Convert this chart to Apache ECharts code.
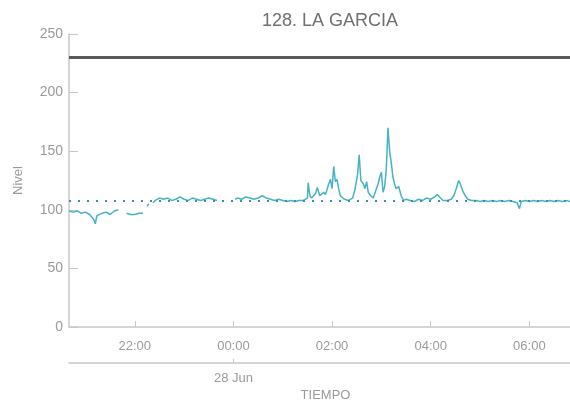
<!DOCTYPE html>
<html>
<head>
<meta charset="utf-8">
<script src="https://cdn.jsdelivr.net/npm/echarts@6/dist/echarts.min.js"></script>
<style>
  html, body { margin: 0; padding: 0; background: #fff; }
  #chart { width: 570px; height: 402px; }
</style>
</head>
<body>
<div id="chart"></div>
<script>
// horas (27 Jun tarde -> 28 Jun madrugada)
var horas = [
  "20:40","20:45","20:50","20:55","21:00","21:05","21:10","21:12","21:14","21:20",
  "21:25","21:30","21:35","21:40","21:43","21:46","21:48","21:50","21:55","22:00",
  "22:05","22:10","22:13","22:15","22:17","22:19","22:22","22:25","22:30","22:35",
  "22:40","22:45","22:50","22:55","23:00","23:05","23:10","23:15","23:20","23:25",
  "23:30","23:35","23:40","23:42","00:02","00:05","00:10","00:15","00:20","00:25",
  "00:30","00:35","00:40","00:45","00:50","00:55","01:00","01:05","01:10","01:15",
  "01:20","01:25","01:30","01:31","01:33","01:35","01:40","01:42","01:45","01:50",
  "01:52","01:55","01:58","02:00","02:02","02:04","02:06","02:08","02:10","02:15",
  "02:20","02:25","02:28","02:31","02:33","02:35","02:38","02:40","02:42","02:44",
  "02:47","02:50","02:53","02:56","02:58","03:00","03:02","03:04","03:06","03:08",
  "03:10","03:12","03:14","03:16","03:18","03:21","03:24","03:27","03:30","03:35",
  "03:40","03:45","03:50","03:55","04:00","04:05","04:08","04:12","04:15","04:20",
  "04:25","04:28","04:31","04:34","04:36","04:39","04:42","04:45","04:50","04:55",
  "05:00","05:05","05:10","05:15","05:20","05:25","05:30","05:35","05:40","05:45",
  "05:48","05:50","05:55","06:00","06:05","06:10","06:15","06:20","06:25","06:30",
  "06:35","06:40","06:45","06:50","06:55","07:00"
];
var nivel = [
  99, 98, 99, 97, 98, 96, 92, 88, 95, 97,
  98, 96, 99, 100, null, 98, null, 97, 96, 96,
  97, 97, null, 103, 105, null, 106, 108, 110, 109,
  110, 108, 109, 111, 109, 108, 110, 109, 108, 109,
  110, 109, 108, null, 109, 110, 109, 111, 110, 109,
  110, 112, 110, 109, 108, 109, 108, 107, 108, 107,
  108, 108, 110, 123, 112, 110, 114, 119, 112, 115,
  113, 120, 126, 118, 137, 124, 126, 118, 112, 109,
  108, 110, 118, 130, 147, 125, 122, 118, 124, 115,
  112, 110, 116, 122, 128, 132, 115, 120, 135, 170,
  150, 140, 128, 122, 118, 120, 112, 108, 109, 108,
  107, 109, 108, 110, 109, 111, 113, 110, 108, 108,
  109, 112, 118, 125, 122, 116, 112, 109, 108, 108,
  107, 108, 107, 108, 107, 108, 107, 108, 107, 106,
  101, 107, 108, 107, 108, 107, 108, 107, 108, 107,
  108, 107, 108, 107, 108, 107
];
var umbralAlto = 230;
var nivelRef = 108;
var yTicks = [0, 50, 100, 150, 200, 250];

function ts(h) {
  var p = h.split(":");
  var hh = parseInt(p[0], 10), mm = parseInt(p[1], 10);
  var dia = hh >= 12 ? 27 : 28;
  return new Date(2021, 5, dia, hh, mm).getTime();
}
function pad(n) { return n < 10 ? "0" + n : "" + n; }

var serie = horas.map(function (h, i) { return [ts(h), nivel[i]]; });
var xMin = ts("20:40");
var xMax = ts("07:04");

var chart = echarts.init(document.getElementById("chart"));
var gris = "#c8c8c8";
var texto = "#9a9a9a";
var fuente = "Liberation Sans";

chart.setOption({
  animation: false,
  textStyle: { fontFamily: fuente },
  title: {
    text: "128. LA GARCIA",
    left: 325,
    textAlign: "center",
    top: 7,
    textStyle: { color: "#707070", fontSize: 18, fontWeight: "normal", fontFamily: fuente }
  },
  grid: { left: 69, right: -12, top: 34, bottom: 75, outerBoundsMode: "none", containLabel: false },
  xAxis: [
    {
      type: "time",
      min: xMin,
      max: xMax,
      splitNumber: 3,
      offset: 4,
      name: "TIEMPO",
      nameLocation: "middle",
      nameGap: 58,
      nameTextStyle: { color: texto, fontSize: 13 },
      axisLine: { lineStyle: { color: gris, width: 1.5 } },
      axisTick: { inside: true, length: 6, lineStyle: { color: gris } },
      splitLine: { show: false },
      axisLabel: {
        color: texto,
        fontSize: 13,
        margin: 9,
        showMinLabel: false,
        showMaxLabel: false,
        formatter: function (v) {
          var d = new Date(v);
          return pad(d.getHours()) + ":" + pad(d.getMinutes());
        }
      }
    },
    {
      type: "time",
      position: "bottom",
      min: xMin,
      max: xMax,
      offset: 36,
      splitNumber: 1,
      axisLine: { lineStyle: { color: gris, width: 1.5 } },
      axisTick: { inside: true, length: 4, lineStyle: { color: gris } },
      splitLine: { show: false },
      axisLabel: {
        color: texto,
        fontSize: 13,
        margin: 9,
        showMinLabel: false,
        showMaxLabel: false,
        formatter: function (v) {
          var d = new Date(v);
          return d.getHours() === 0 && d.getMinutes() === 0 ? d.getDate() + " Jun" : "";
        }
      }
    }
  ],
  yAxis: {
    type: "value",
    min: yTicks[0],
    max: yTicks[yTicks.length - 1],
    interval: 50,
    name: "Nivel",
    nameLocation: "middle",
    nameGap: 44,
    nameTextStyle: { color: texto, fontSize: 13 },
    axisLine: { show: true, lineStyle: { color: gris, width: 1.5 } },
    axisTick: { show: true, inside: true, length: 9, lineStyle: { color: gris } },
    splitLine: { show: false },
    axisLabel: { color: texto, fontSize: 14, margin: 6 }
  },
  series: [
    {
      name: "Nivel",
      type: "line",
      xAxisIndex: 0,
      data: serie,
      showSymbol: false,
      connectNulls: false,
      lineStyle: { color: "#45b3c2", width: 1.5 },
      itemStyle: { color: "#45b3c2" },
      markLine: {
        silent: true,
        symbol: "none",
        label: { show: false },
        data: [
          { yAxis: umbralAlto, lineStyle: { color: "#5a5a5a", width: 3, type: "solid" } },
          { yAxis: nivelRef, lineStyle: { color: "#3d8fa3", width: 2, type: [2, 7] } }
        ]
      }
    }
  ]
});
</script>
</body>
</html>
